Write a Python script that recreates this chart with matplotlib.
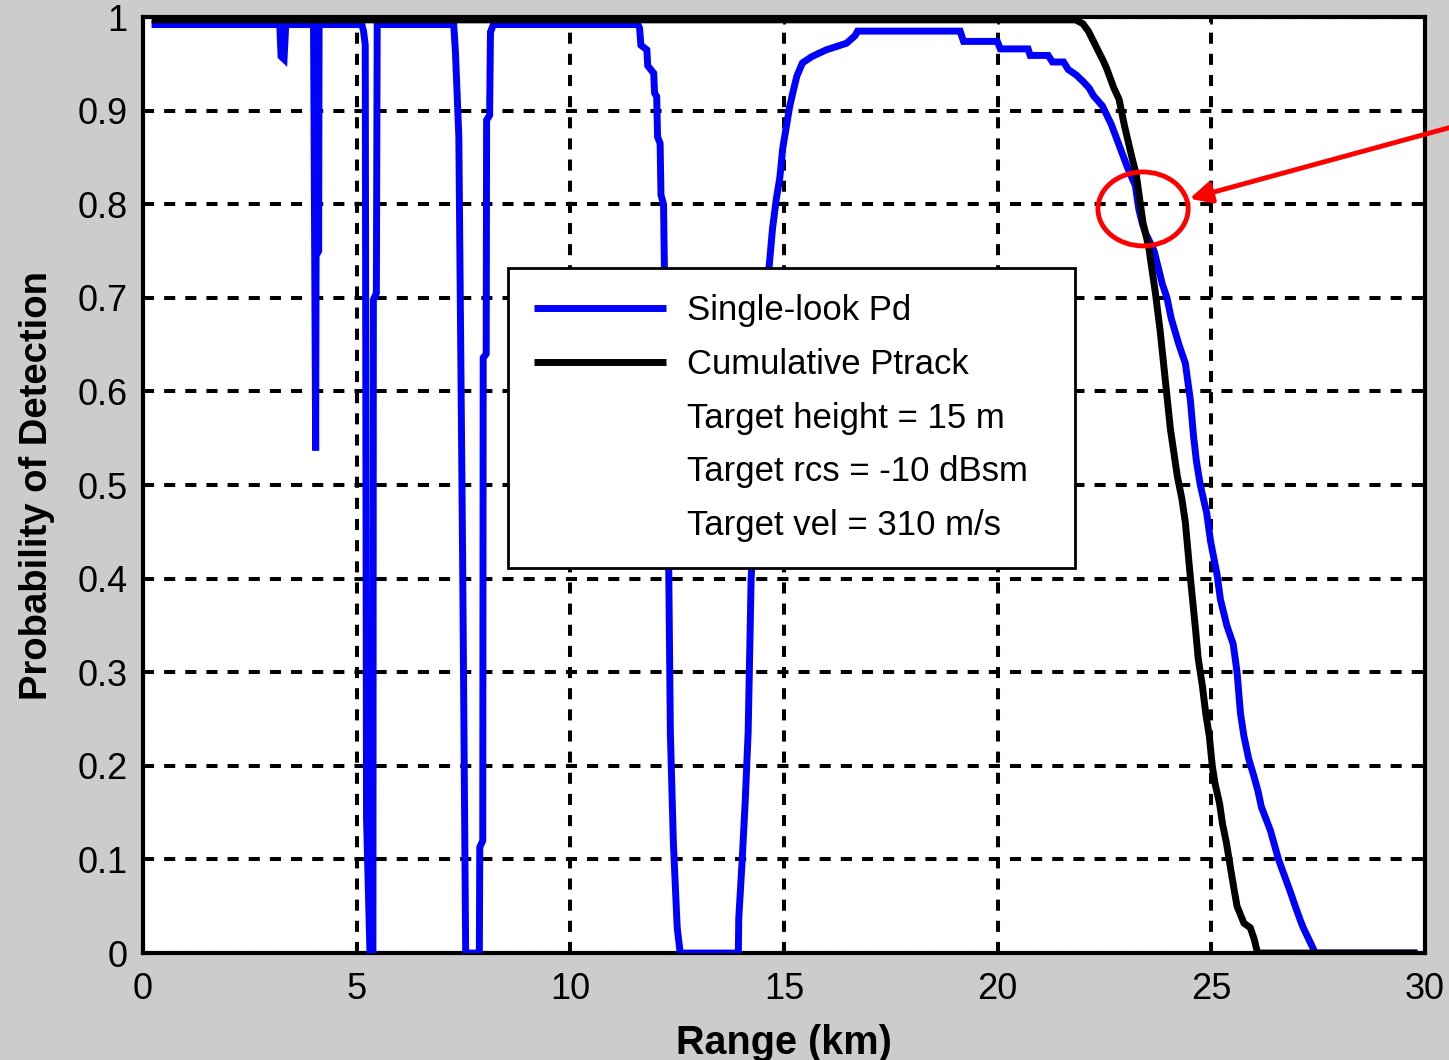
import matplotlib
matplotlib.use('Agg')
import matplotlib.pyplot as plt
from matplotlib.patches import Ellipse
from matplotlib.lines import Line2D

plt.rcParams['font.family'] = ['Liberation Sans', 'DejaVu Sans']

# single-look Pd (range in km)
pd_range = [0.20, 3.20, 3.23, 3.30, 3.34, 3.99, 4.04, 4.05, 4.11, 4.12,
            5.12, 5.16, 5.20, 5.23, 5.31, 5.38, 5.39, 5.46, 5.48,
            7.27, 7.31, 7.39, 7.48, 7.55, 7.87, 7.88, 7.95, 7.96, 8.03, 8.04,
            8.11, 8.13, 8.20,
            11.58, 11.62, 11.65, 11.79, 11.81, 11.95, 11.97, 12.02, 12.04, 12.10,
            12.12, 12.18, 12.20, 12.26, 12.34, 12.41, 12.50, 12.57,
            13.93, 13.94, 14.02, 14.09, 14.16, 14.23, 14.45, 14.65, 14.73, 14.82,
            14.90, 14.97, 15.05, 15.13, 15.22, 15.30, 15.43, 15.66, 15.99, 16.46,
            16.66, 16.72, 19.12, 19.20, 19.99, 20.06, 20.71, 20.76, 21.18, 21.28,
            21.54, 21.65, 21.84, 22.00, 22.14, 22.24, 22.45, 22.66, 22.85, 23.03,
            23.22, 23.30, 23.38, 23.45, 23.66, 23.85, 23.96, 24.06, 24.24, 24.39,
            24.51, 24.58, 24.65, 24.74, 24.89, 24.98, 25.13, 25.21, 25.36, 25.51,
            25.60, 25.68, 25.76, 25.87, 26.00, 26.09, 26.17, 26.38, 26.57, 26.73,
            26.85, 26.97, 27.08, 27.15, 27.38, 27.42, 29.82]
pd_vals = [0.992, 0.992, 0.958, 0.955, 0.992, 0.992, 0.537, 0.745, 0.750, 0.992,
           0.992, 0.985, 0.970, 0.145, 0.000, 0.000, 0.698, 0.705, 0.992,
           0.992, 0.963, 0.872, 0.415, 0.000, 0.000, 0.113, 0.120, 0.636, 0.640, 0.890,
           0.895, 0.984, 0.992,
           0.992, 0.988, 0.970, 0.965, 0.948, 0.940, 0.919, 0.915, 0.872, 0.865,
           0.810, 0.800, 0.733, 0.600, 0.235, 0.118, 0.027, 0.000,
           0.000, 0.037, 0.099, 0.161, 0.236, 0.400, 0.600, 0.733, 0.774, 0.806,
           0.828, 0.860, 0.882, 0.904, 0.922, 0.937, 0.951, 0.958, 0.965, 0.972,
           0.980, 0.985, 0.985, 0.974, 0.974, 0.966, 0.966, 0.959, 0.959, 0.952,
           0.952, 0.944, 0.938, 0.931, 0.924, 0.916, 0.905, 0.885, 0.862, 0.840,
           0.820, 0.795, 0.780, 0.770, 0.750, 0.715, 0.700, 0.678, 0.650, 0.630,
           0.590, 0.553, 0.525, 0.500, 0.470, 0.440, 0.405, 0.378, 0.350, 0.330,
           0.300, 0.256, 0.232, 0.208, 0.188, 0.173, 0.156, 0.131, 0.100, 0.080,
           0.065, 0.049, 0.035, 0.027, 0.005, 0.000, 0.000]

# cumulative Ptrack
trk_range = [0.20, 21.82, 21.99, 22.12, 22.45, 22.55, 22.71, 22.84, 22.96, 23.14,
             23.24, 23.40, 23.53, 23.69, 23.80, 23.88, 23.96, 24.04, 24.12, 24.20,
             24.31, 24.39, 24.51, 24.63, 24.69, 24.79, 24.87, 24.95, 25.02, 25.09,
             25.19, 25.26, 25.35, 25.45, 25.53, 25.60, 25.76, 25.91, 26.00, 26.08,
             29.82]
trk_vals = [0.997, 0.997, 0.993, 0.985, 0.955, 0.945, 0.925, 0.912, 0.885, 0.850,
            0.832, 0.780, 0.755, 0.705, 0.665, 0.630, 0.595, 0.560, 0.535, 0.510,
            0.485, 0.460, 0.400, 0.345, 0.315, 0.285, 0.255, 0.232, 0.200, 0.180,
            0.160, 0.138, 0.118, 0.090, 0.068, 0.050, 0.032, 0.027, 0.015, 0.000,
            0.000]

legend_labels = ['Single-look Pd', 'Cumulative Ptrack', 'Target height = 15 m',
                 'Target rcs = -10 dBsm', 'Target vel = 310 m/s']
x_ticks = [0, 5, 10, 15, 20, 25, 30]
y_ticks = [0, 0.1, 0.2, 0.3, 0.4, 0.5, 0.6, 0.7, 0.8, 0.9, 1]
y_tick_labels = ['0', '0.1', '0.2', '0.3', '0.4', '0.5', '0.6', '0.7', '0.8', '0.9', '1']

fig = plt.figure(figsize=(14.49, 10.60), dpi=100, facecolor='#cccccc')
ax = fig.add_axes([0.0987, 0.1009, 0.8848, 0.8830])

l1, = ax.plot(pd_range, pd_vals, color='#0000ff', lw=5, solid_capstyle='butt',
              solid_joinstyle='miter', zorder=3)
l2, = ax.plot(trk_range, trk_vals, color='black', lw=5, solid_capstyle='butt',
              solid_joinstyle='miter', zorder=4)

ax.set_xlim(0, 30)
ax.set_ylim(0, 1)
ax.set_xticks(x_ticks)
ax.set_xticklabels([str(t) for t in x_ticks])
ax.set_yticks(y_ticks)
ax.set_yticklabels(y_tick_labels)
ax.tick_params(direction='in', length=5, width=2, labelsize=26, pad=11,
               top=True, right=True)
ax.tick_params(axis='x', pad=14)
ax.set_axisbelow(True)
ax.grid(True, color='black', lw=2.9, linestyle=(0, (2.75, 2.5)))
for sp in ax.spines.values():
    sp.set_linewidth(3)

ax.set_xlabel('Range (km)', fontsize=28.5, fontweight='bold', labelpad=12)
ax.set_ylabel('Probability of Detection', fontsize=27.5, fontweight='bold', labelpad=16)

blank = [Line2D([], [], color='none') for _ in range(3)]
leg = ax.legend([l1, l2] + blank, legend_labels, loc='upper left',
                bbox_to_anchor=(0.285, 0.411, 0.442, 0.321), mode='expand',
                borderaxespad=0, fontsize=25,
                handlelength=3.8, handletextpad=0.6, labelspacing=0.6,
                borderpad=0.75, fancybox=False, framealpha=1, edgecolor='black')
leg.get_frame().set_linewidth(2)
leg.set_zorder(10)

# red circle and arrow around the crossing point
ax.add_patch(Ellipse((23.4, 0.795), 2.11, 0.079, fill=False, edgecolor='red',
                     lw=3.5, zorder=11))
ax.annotate('', xy=(24.49, 0.806), xytext=(30.9, 0.886),
            arrowprops=dict(arrowstyle='-|>', color='red', lw=3.5,
                            mutation_scale=32, shrinkA=0, shrinkB=0),
            annotation_clip=False, zorder=11)

fig.savefig('out.png', dpi=100, facecolor=fig.get_facecolor())
